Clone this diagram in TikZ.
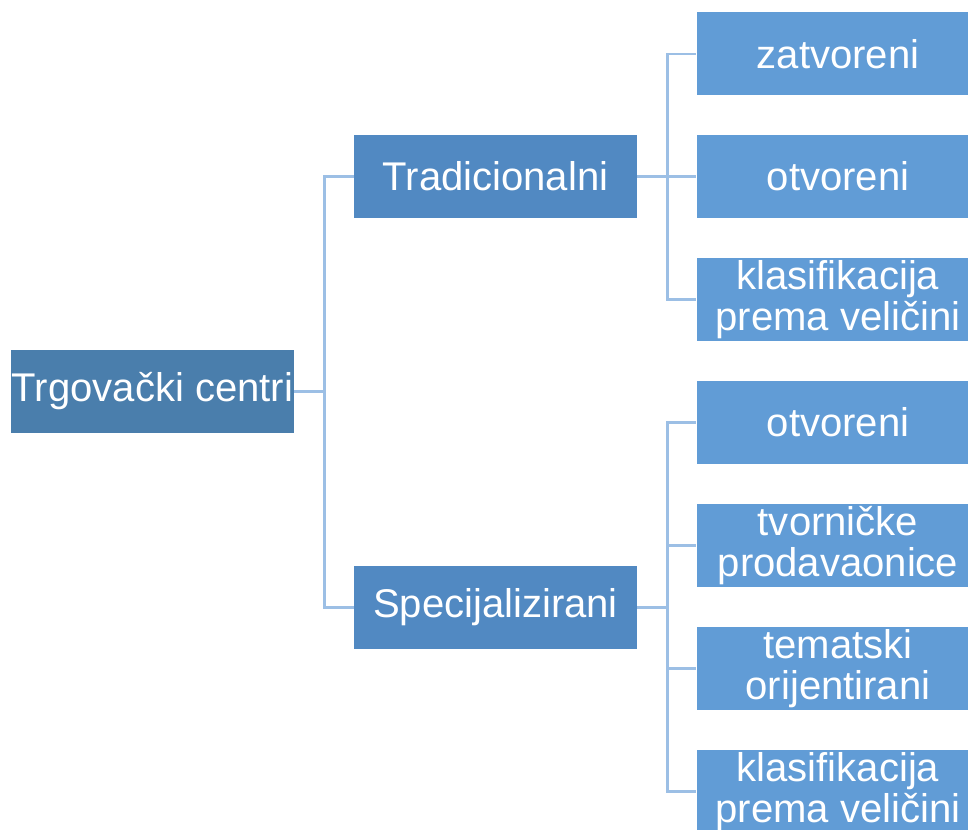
\documentclass[tikz,border=0pt]{standalone}
\usepackage{fontspec}
\setmainfont{Liberation Sans}
\usepackage{xcolor}
\usetikzlibrary{positioning}

\definecolor{rootblue}{HTML}{4A7EAC}
\definecolor{midblue}{HTML}{5189C2}
\definecolor{leafblue}{HTML}{619CD6}
\definecolor{lineblue}{HTML}{9CBFE5}

\tikzset{
  box/.style={fill=#1, text=white, minimum width=5.66cm, minimum height=1.66cm,
    inner sep=0pt, align=center, font=\fontsize{22.8}{23.6}\selectfont},
  conn/.style={draw=lineblue, line width=1.6pt}
}

\begin{document}
\begin{tikzpicture}[x=0.02cm,y=-0.02cm]
\useasboundingbox (0,0) rectangle (968,830);
\clip (0,0) rectangle (968,830);
\node[box=rootblue] (root) at (152.5,391.5) {Trgovački centri};
\node[box=midblue] (trad) at (495.5,176.5) {Tradicionalni};
\node[box=midblue] (spec) at (495.5,607.5) {Specijalizirani};
\draw[conn] (root.east) -- ++(30,0) coordinate (j0);
\draw[conn] (j0) |- (trad.west);
\draw[conn] (j0) |- (spec.west);
\draw[conn] (trad.east) -- ++(30,0) coordinate (j1);
\draw[conn] (spec.east) -- ++(30,0) coordinate (j2);
\foreach \n/\y/\txt in {t1/54/zatvoreni, t2/176.5/otvoreni, t3/299.5/{klasifikacija\\prema veličini}} {
  \node[box=leafblue] (\n) at (838,\y) {\txt};
  \draw[conn] (j1) |- (\n.west);
}
\foreach \n/\y/\txt in {s1/422.5/otvoreni, s2/545.5/{tvorničke\\prodavaonice}, s3/668.5/{tematski\\orijentirani}, s4/791.5/{klasifikacija\\prema veličini}} {
  \node[box=leafblue] (\n) at (838,\y) {\txt};
  \draw[conn] (j2) |- (\n.west);
}
\end{tikzpicture}
\end{document}
